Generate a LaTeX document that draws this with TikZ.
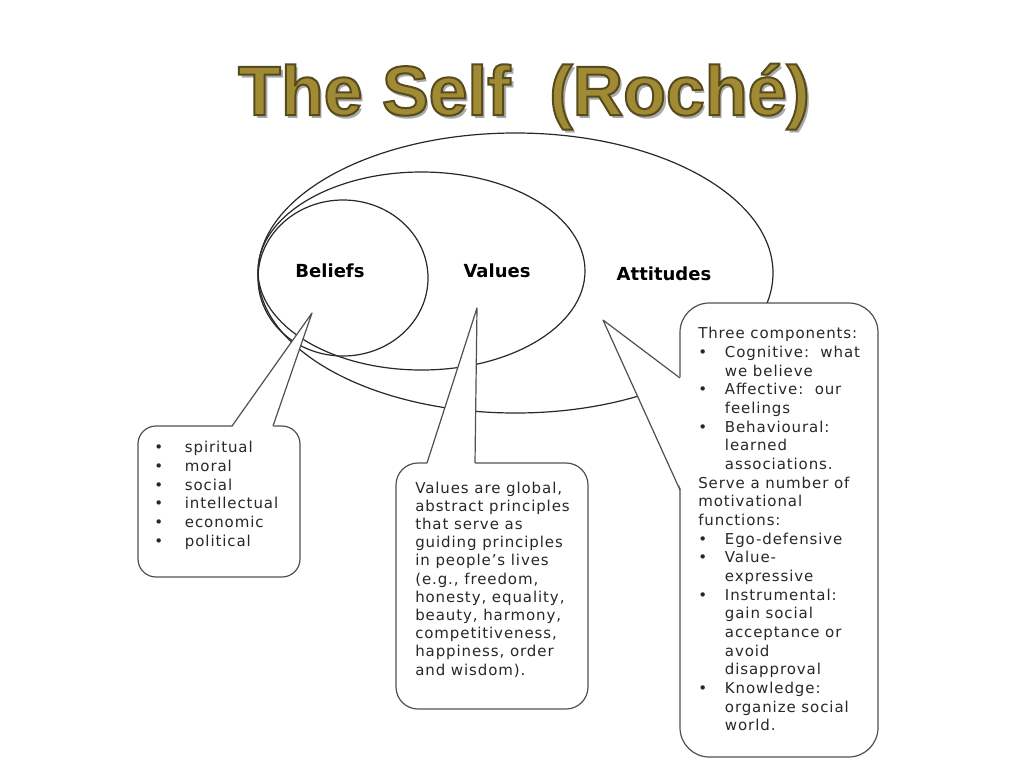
\documentclass[tikz,border=0pt]{standalone}
\usepackage{fontspec}
\usepackage{tikz}
\usetikzlibrary{calc}
\newfontfamily\titlefont{Liberation Sans}
\newfontfamily\boxfont[LetterSpace=6]{DejaVu Sans}
\newfontfamily\tagfont{DejaVu Sans}
\definecolor{titlegold}{RGB}{160,138,52}
\definecolor{titleshade}{RGB}{170,170,170}
\definecolor{inkgray}{RGB}{40,40,40}
\definecolor{boxgray}{RGB}{80,80,80}
\tikzstyle{ring} = [draw=inkgray, line width=0.9pt]
\tikzstyle{callout} = [draw=boxgray, fill=white, line width=0.9pt]
\tikzstyle{pointer} = [draw=boxgray, line width=0.9pt, line join=round]
\tikzstyle{tag} = [font=\tagfont\bfseries\fontsize{13.5}{16}\selectfont, text=black, inner sep=0.75pt]
\tikzstyle{boxtext} = [font=\boxfont\fontsize{11.25}{14}\selectfont, text=inkgray, align=left, inner sep=0.75pt, anchor=north west]
\tikzstyle{headline} = [font=\titlefont\bfseries\fontsize{52.5}{60}\selectfont, inner sep=0pt, anchor=base]
% outlined glyphs: fill in the text colour, stroke in dark olive
\newcommand{\outlined}[1]{\special{pdf:literal direct 0.34 0.29 0.11 RG 1.5 w 2 Tr}#1\special{pdf:literal direct 0 Tr}}
\newcommand{\bitem}{\makebox[23pt][l]{\textbullet}}
\newcommand{\aitem}{\makebox[20pt][l]{\textbullet}}
\newcommand{\aindent}{\hspace*{20pt}}

\begin{document}
\begin{tikzpicture}[x=0.75pt,y=0.75pt,yscale=-1,xscale=1]
\useasboundingbox (0,0) rectangle (1024,768);
\fill [white] (0,0) rectangle (1024,768);

% Text Node
\draw (527,118) node (titleshadow) [headline, text=titleshade] {The Self\ \ (Roché)};
% Text Node
\draw (524,115) node (title) [headline, text=titlegold] {\outlined{The Self\ \ (Roché)}};

%Shape: Ellipse [attitudes]
\draw [ring] (515.5,273) ellipse (257.5 and 140);
%Shape: Ellipse [values]
\draw [ring] (421.5,271) ellipse (163.5 and 99);
%Shape: Ellipse [beliefs]
\draw [ring] (343,278) ellipse (85 and 78);

% Text Node
\draw (330,277) node (beliefslabel) [tag, anchor=base] {Beliefs};
% Text Node
\draw (497,277) node (valueslabel) [tag, anchor=base] {Values};
% Text Node
\draw (664,280) node (attitudeslabel) [tag, anchor=base] {Attitudes};

%Shape: Callout [beliefs]
\coordinate (btip) at (312,313);
\coordinate (bl) at (232,426);
\coordinate (br) at (273,426);
\draw [callout, rounded corners=13.5pt] (138,426) rectangle (300,577);
\fill [white] ($(bl)+(0,1.5)$) -- (btip) -- ($(br)+(0,1.5)$) -- cycle;
\draw [pointer] (bl) -- (btip) -- (br);

%Shape: Callout [values]
\coordinate (vtip) at (477,308);
\coordinate (vl) at (427,463);
\coordinate (vr) at (475,463);
\draw [callout, rounded corners=16.5pt] (396,463) rectangle (588,709);
\fill [white] ($(vl)+(0,1.5)$) -- (vtip) -- ($(vr)+(0,1.5)$) -- cycle;
\draw [pointer] (vl) -- (vtip) -- (vr);

%Shape: Callout [attitudes]
\coordinate (atip) at (603,320);
\coordinate (au) at (680,378);
\coordinate (ad) at (680,490);
\draw [callout, rounded corners=22pt] (680,303) rectangle (878,757);
\fill [white] ($(au)+(1.5,0)$) -- (atip) -- ($(ad)+(1.5,0)$) -- cycle;
\draw [pointer] (au) -- (atip) -- (ad);

% Text Node
\draw (153,440) node (beliefstext) [boxtext] {\bitem spiritual\\ \bitem moral\\ \bitem social\\ \bitem intellectual\\ \bitem economic\\ \bitem political};
% Text Node
\draw (414,480.5) node (valuestext) [boxtext, font=\boxfont\fontsize{11.25}{13.65}\selectfont] {Values are global,\\ abstract principles\\ that serve as\\ guiding principles\\ in people’s lives\\ (e.g., freedom,\\ honesty, equality,\\ beauty, harmony,\\ competitiveness,\\ happiness, order\\ and wisdom).};
% Text Node
\draw (697,326) node (attitudestext) [boxtext] {Three components:\\ \aitem Cognitive:\ \ what\\ \aindent we believe\\ \aitem Affective:\ \ our\\ \aindent feelings\\ \aitem Behavioural:\\ \aindent learned\\ \aindent associations.\\ Serve a number of\\ motivational\\ functions:\\ \aitem Ego-defensive\\ \aitem Value-\\ \aindent expressive\\ \aitem Instrumental:\\ \aindent gain social\\ \aindent acceptance or\\ \aindent avoid\\ \aindent disapproval\\ \aitem Knowledge:\\ \aindent organize social\\ \aindent world.};

\end{tikzpicture}
\end{document}
